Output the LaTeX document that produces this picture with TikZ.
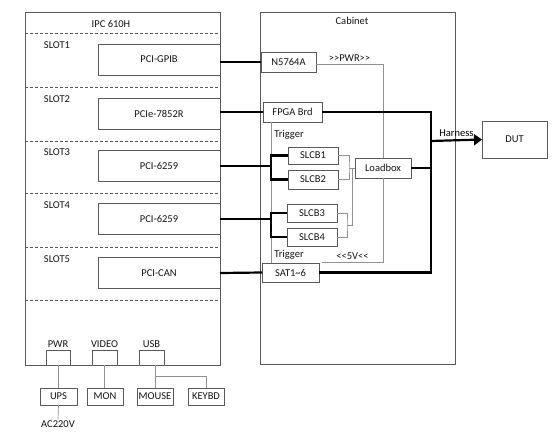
\documentclass[tikz,border=0pt]{standalone}
\usepackage{fontspec}
\setmainfont{Carlito}
\usetikzlibrary{positioning,calc,arrows.meta}
\definecolor{boxgray}{RGB}{90,90,90}
\definecolor{linegray}{RGB}{145,145,145}
\definecolor{textgray}{RGB}{20,20,20}

\begin{document}
\begin{tikzpicture}[x=1pt,y=-1pt,font=\fontsize{10.5}{12}\selectfont,text=textgray]

    \tikzstyle{frame}=[draw=boxgray,line width=0.7pt,inner sep=0pt,outer sep=0pt]
    \tikzstyle{card}=[frame,minimum width=122pt,minimum height=31pt]
    \tikzstyle{unit}=[frame,minimum height=19pt]
    \tikzstyle{port}=[frame,minimum width=24pt,minimum height=15pt]
    \tikzstyle{bus}=[line width=2.2pt,black]
    \tikzstyle{wire}=[draw=linegray,line width=0.7pt]
    \useasboundingbox (0,0) rectangle (559,434);

\node (IPC) [frame,minimum width=195pt,minimum height=353pt] at (122.5,188.5) {};
\node (IPC_title) at (111,24) {IPC 610H};
\node (Cabinet) [frame,minimum width=195pt,minimum height=352pt] at (357.5,188) {};
\node (Cab_title) at (352,21) {Cabinet};

\draw [boxgray,dashed,dash pattern=on 3pt off 2pt] (25,33) -- (219,33) (25,87) -- (219,87) (25,141) -- (219,141) (25,193) -- (219,193) (25,247) -- (219,247) (25,300) -- (219,300);

\node (SLOT_1) at (57,45) {SLOT1};
\node (SLOT_2) at (57,99) {SLOT2};
\node (SLOT_3) at (57,152) {SLOT3};
\node (SLOT_4) at (57,205) {SLOT4};
\node (SLOT_5) at (57,259) {SLOT5};

\node (PCI_1) [card] at (159,59.5) {PCI-GPIB};
\node (PCI_2) [card] at (159,113.5) {PCIe-7852R};
\node (PCI_3) [card] at (159,166) {PCI-6259};
\node (PCI_4) [card] at (159,219) {PCI-6259};
\node (PCI_5) [card] at (159,273) {PCI-CAN};

\node (N5764A) [unit,minimum width=55pt,minimum height=20pt] at (288.5,62) {N5764A};
\node (FPGA) [unit,minimum width=59pt,minimum height=20pt] at (292.5,112) {FPGA Brd};
\node (SLCB_1) [unit,minimum width=50pt,minimum height=17pt] at (313,155.5) {SLCB1};
\node (SLCB_2) [unit,minimum width=50pt] at (313,179.5) {SLCB2};
\node (SLCB_3) [unit,minimum width=50pt,minimum height=18pt] at (312,213) {SLCB3};
\node (SLCB_4) [unit,minimum width=50pt,minimum height=18pt] at (312,237) {SLCB4};
\node (Loadbox) [unit,minimum width=56pt,minimum height=20pt] at (383,168) {Loadbox};
\node (SAT) [unit,minimum width=57pt] at (290.5,272.5) {SAT1\textasciitilde6};
\node (DUT) [frame,minimum width=65pt,minimum height=37pt] at (514.5,139.5) {DUT};

\node (Trig_1) at (289,135) {Trigger};
\node (Trig_2) at (289,255) {Trigger};
\coordinate (trig) at (271,0);
\coordinate (trunk) at (431,141);

\draw[wire] (FPGA.south -| trig) -- (SAT.north -| trig);

\draw[bus] (N5764A.west) -- (N5764A.west -| IPC.east);
\draw[bus] (FPGA.west) -- (FPGA.west -| IPC.east);
\draw[bus] (PCI_3.east) -- (PCI_3.east -| trig);
\draw[bus] (SLCB_1.west) -| (PCI_3.east -| trig) |- (SLCB_2.west);
\draw[bus] (PCI_4.east) -- (PCI_4.east -| trig);
\draw[bus] (SLCB_3.west) -| (PCI_4.east -| trig) |- (SLCB_4.west);
\draw[bus] (PCI_5.east) -- (SAT.west);

\draw[wire] (SLCB_1.east) -| (349,168) coordinate (j12) |- (SLCB_2.east);
\draw[wire] (j12) -- (Loadbox.west);
\draw[wire] (SLCB_3.east) -| (347,225) coordinate (j34) |- (SLCB_4.east);
\draw[wire] (j34) -| ([xshift=-3pt]Loadbox.west);

\draw[wire] ([yshift=-2pt]N5764A.east) -| (Loadbox.north) node[pos=0.25,above,yshift=-1pt] (PWR_lbl) {>{}>PWR>{}>};
\draw[wire] (Loadbox.south) |- ([xshift=3pt,yshift=1pt]SAT.north east) node[pos=0.75,above,yshift=-1pt] (V5_lbl) {<{}<5V<{}<};

\draw[bus] (FPGA.east) -| (trunk) |- (SAT.east);
\draw[bus] (Loadbox.east) -- (Loadbox.east -| trunk);
\draw[bus,-{Triangle[length=8pt,width=11pt]}] (trunk) -- (DUT.west) node[midway,above,yshift=-1pt] (Harness) {Harness};

\node (PWR) [port,label={[yshift=-1pt]above:PWR}] at (58,357.5) {};
\node (VIDEO) [port,minimum width=25pt,label={[yshift=-1pt]above:VIDEO}] at (104.5,357.5) {};
\node (USB) [port,minimum width=25pt,label={[yshift=-1pt]above:USB}] at (151.5,357.5) {};

\node (UPS) [frame,minimum width=37pt,minimum height=17pt] at (58.5,396.5) {UPS};
\node (MON) [frame,minimum width=36pt,minimum height=17pt] at (105,396.5) {MON};
\node (MOUSE) [frame,minimum width=36pt,minimum height=17pt] at (155,396.5) {MOUSE};
\node (KEYBD) [frame,minimum width=36pt,minimum height=17pt] at (206,396.5) {KEYBD};
\node (AC) [inner sep=1pt] at (58,424) {AC220V};

\draw[wire] (UPS.north) -- (UPS.north |- PWR.south);
\draw[wire] (UPS.south) -- (AC.north);
\draw[wire] (VIDEO.south) -- (VIDEO.south |- MON.north);
\draw[wire] (MOUSE.north |- USB.south) -- (MOUSE.north);
\draw[wire] (MOUSE.north |- 0,376) -| (KEYBD.north);

\end{tikzpicture}
\end{document}
